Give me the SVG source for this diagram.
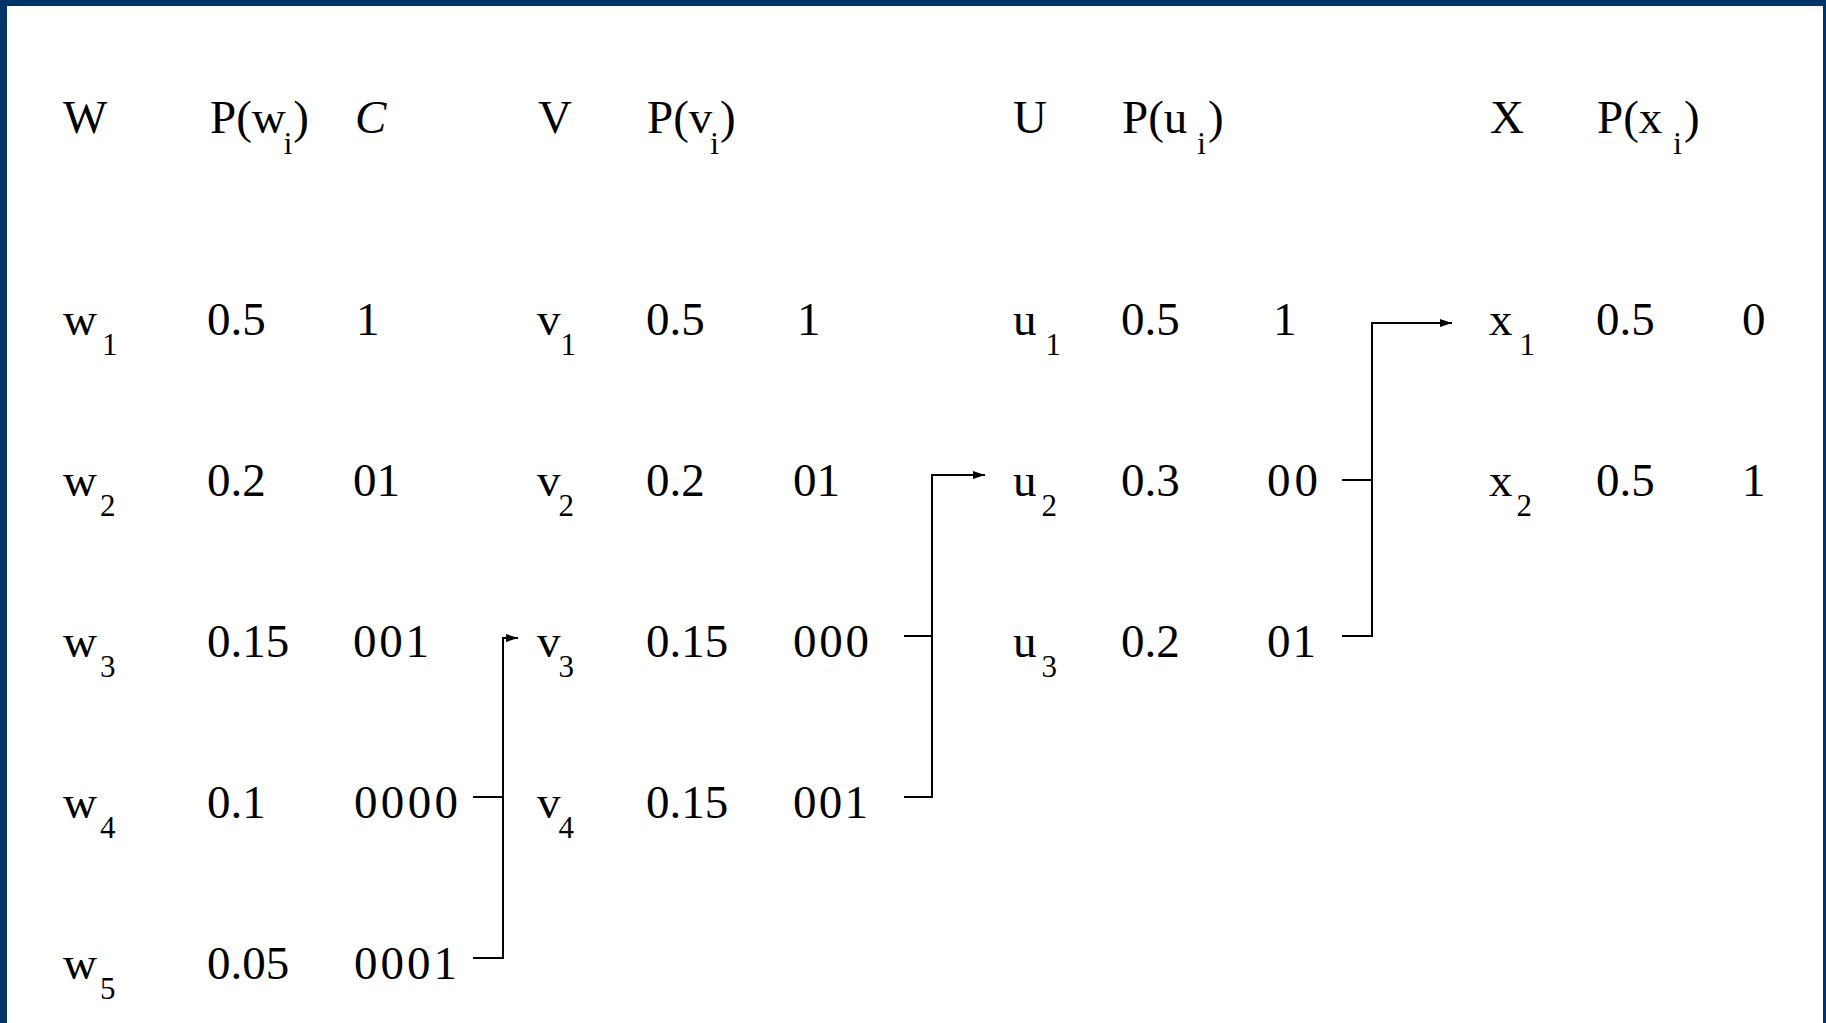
<svg xmlns="http://www.w3.org/2000/svg" width="1826" height="1023" viewBox="0 0 1826 1023">
<style>
text{font-family:"Liberation Serif","Times New Roman",serif;fill:#000}
.m{font-size:47px}
.s{font-size:31px}
.it{font-style:italic}
.c{fill:none;stroke:#000;stroke-width:2}
</style>
<defs>
<marker id="ah" markerUnits="userSpaceOnUse" markerWidth="13" markerHeight="9" refX="12" refY="4.5" orient="auto">
<path d="M0,0.5 L12,4.5 L0,8.5 z" fill="#000"/>
</marker>
</defs>
<rect x="0" y="0" width="1826" height="1023" fill="#003468"/>
<rect x="7" y="6" width="1816" height="1017" fill="#fff"/>

<g id="header">
<text class="m" x="63" y="133">W</text>
<text class="m" x="210" y="133">P(w<tspan class="s" dx="-2" dy="21">i</tspan><tspan dx="1" dy="-21">)</tspan></text>
<text class="m it" x="355" y="133">C</text>
<text class="m" x="538" y="133">V</text>
<text class="m" x="647" y="133">P(v<tspan class="s" dx="-2" dy="21">i</tspan><tspan dx="1" dy="-21">)</tspan></text>
<text class="m" x="1013" y="133">U</text>
<text class="m" x="1122" y="133">P(u<tspan class="s" dx="10" dy="21">i</tspan><tspan dx="2" dy="-21">)</tspan></text>
<text class="m" x="1490" y="133">X</text>
<text class="m" x="1597" y="133">P(x<tspan class="s" dx="11" dy="21">i</tspan><tspan dx="2" dy="-21">)</tspan></text>
</g>

<g id="w1"><text class="m" x="63" y="335">w<tspan class="s" dx="5" dy="20">1</tspan></text><text class="m" x="207" y="335">0.5</text><text class="m" x="356" y="335">1</text></g>
<g id="w2"><text class="m" x="63" y="496">w<tspan class="s" dx="3" dy="20">2</tspan></text><text class="m" x="207" y="496">0.2</text><text class="m" x="353" y="496" textLength="47" lengthAdjust="spacing">01</text></g>
<g id="w3"><text class="m" x="63" y="657">w<tspan class="s" dx="3" dy="20">3</tspan></text><text class="m" x="207" y="657">0.15</text><text class="m" x="353" y="657" textLength="76" lengthAdjust="spacing">001</text></g>
<g id="w4"><text class="m" x="63" y="818">w<tspan class="s" dx="3" dy="20">4</tspan></text><text class="m" x="207" y="818">0.1</text><text class="m" x="354" y="818" textLength="104" lengthAdjust="spacing">0000</text></g>
<g id="w5"><text class="m" x="63" y="979">w<tspan class="s" dx="3" dy="20">5</tspan></text><text class="m" x="207" y="979">0.05</text><text class="m" x="354" y="979" textLength="103" lengthAdjust="spacing">0001</text></g>

<g id="v1"><text class="m" x="537" y="335">v<tspan class="s" dx="0" dy="20">1</tspan></text><text class="m" x="646" y="335">0.5</text><text class="m" x="797" y="335">1</text></g>
<g id="v2"><text class="m" x="537" y="496">v<tspan class="s" dx="-2" dy="20">2</tspan></text><text class="m" x="646" y="496">0.2</text><text class="m" x="793" y="496" textLength="47" lengthAdjust="spacing">01</text></g>
<g id="v3"><text class="m" x="537" y="657">v<tspan class="s" dx="-2" dy="20">3</tspan></text><text class="m" x="646" y="657">0.15</text><text class="m" x="793" y="657" textLength="76" lengthAdjust="spacing">000</text></g>
<g id="v4"><text class="m" x="537" y="818">v<tspan class="s" dx="-2" dy="20">4</tspan></text><text class="m" x="646" y="818">0.15</text><text class="m" x="793" y="818" textLength="75" lengthAdjust="spacing">001</text></g>

<g id="u1"><text class="m" x="1013" y="335">u<tspan class="s" dx="9" dy="20">1</tspan></text><text class="m" x="1121" y="335">0.5</text><text class="m" x="1273" y="335">1</text></g>
<g id="u2"><text class="m" x="1013" y="496">u<tspan class="s" dx="5" dy="20">2</tspan></text><text class="m" x="1121" y="496">0.3</text><text class="m" x="1267" y="496" textLength="51" lengthAdjust="spacing">00</text></g>
<g id="u3"><text class="m" x="1013" y="657">u<tspan class="s" dx="5" dy="20">3</tspan></text><text class="m" x="1121" y="657">0.2</text><text class="m" x="1267" y="657" textLength="49" lengthAdjust="spacing">01</text></g>

<g id="x1"><text class="m" x="1489" y="335">x<tspan class="s" dx="7" dy="20">1</tspan></text><text class="m" x="1596" y="335">0.5</text><text class="m" x="1742" y="335">0</text></g>
<g id="x2"><text class="m" x="1489" y="496">x<tspan class="s" dx="4" dy="20">2</tspan></text><text class="m" x="1596" y="496">0.5</text><text class="m" x="1742" y="496">1</text></g>

<g id="connectors">
<path class="c" d="M473,797 H503"/>
<path class="c" d="M473,958 H503 V638 H518" marker-end="url(#ah)"/>
<path class="c" d="M904,636 H932"/>
<path class="c" d="M904,797 H932 V475 H985" marker-end="url(#ah)"/>
<path class="c" d="M1342,480 H1372"/>
<path class="c" d="M1342,636 H1372 V323 H1452" marker-end="url(#ah)"/>
</g>
</svg>
